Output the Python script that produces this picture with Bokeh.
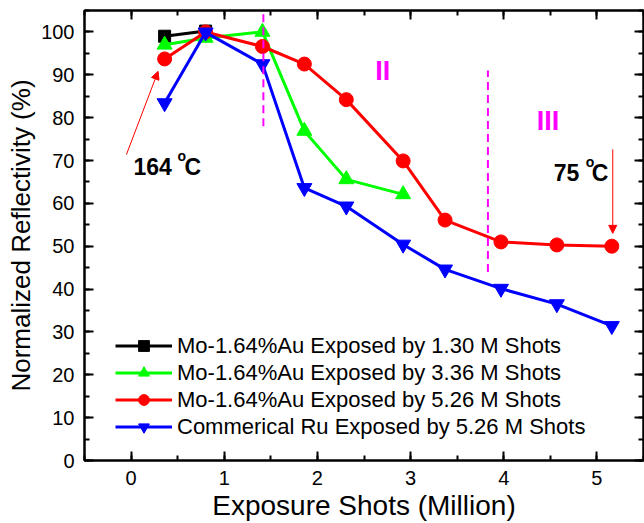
from bokeh.plotting import figure
from bokeh.models import (Range1d, LinearAxis, SingleIntervalTicker, Label, Arrow,
                          NormalHead, Legend, CustomLabelingPolicy)
from bokeh.embed import file_html
from bokeh.resources import INLINE

# ---------------- data ----------------
shots = [0.36, 0.80, 1.41, 1.86, 2.31, 2.92, 3.37, 3.97, 4.57, 5.16]
mo_130 = [99.0, 100.2]
mo_336 = [97.0, 98.6, 100.0, 76.9, 65.6, 62.1]
mo_526 = [93.7, 100.0, 96.6, 92.5, 84.2, 69.9, 56.1, 51.0, 50.3, 50.0]
ru_526 = [83.4, 99.9, 92.5, 63.6, 59.3, 50.4, 44.6, 40.1, 36.5, 31.4]

labels = ["Mo-1.64%Au Exposed by 1.30 M Shots",
          "Mo-1.64%Au Exposed by 3.36 M Shots",
          "Mo-1.64%Au Exposed by 5.26 M Shots",
          "Commerical Ru Exposed by 5.26 M Shots"]
colors = ["#000000", "#00FF00", "#FF0000", "#0000FF"]
markers = ["square", "triangle", "circle", "inverted_triangle"]
msizes = [12, 15, 14, 15]

# region boundaries and annotations (data coordinates)
boundary_1 = dict(x=1.42, y0=78.0, y1=108.0)
boundary_2 = dict(x=3.83, y0=44.0, y1=91.0)
region_labels = [("II", 2.70, 90.8), ("III", 4.475, 79.2)]
temp_labels = [("164", 0.025, 68.6, 44, 51), ("75", 4.537, 67.2, 32, 38)]
arrow_1 = dict(x0=-0.05, y0=71.4, x1=0.29, y1=90.8)
arrow_2 = dict(x0=5.17, y0=72.6, x1=5.17, y1=53.0)

FONT = "Liberation Sans"

p = figure(width=644, height=523, output_backend="svg", toolbar_location=None,
           x_range=Range1d(-0.5, 5.5), y_range=Range1d(0, 105),
           min_border_left=84, min_border_right=1, min_border_top=10,
           min_border_bottom=61)
p.xgrid.visible = False
p.ygrid.visible = False
p.outline_line_color = "black"
p.outline_line_width = 2
p.background_fill_color = "white"
p.border_fill_color = "white"

no_labels = CustomLabelingPolicy(code="""
    for (const i of indices) { indices.unset(i) }
    return indices
""")

def style_axis(ax, show_labels):
    ax.axis_line_width = 2
    ax.major_tick_line_width = 2
    ax.minor_tick_line_width = 2
    ax.major_tick_in = 9
    ax.major_tick_out = 0
    ax.minor_tick_in = 5
    ax.minor_tick_out = 0
    ax.major_label_text_font = FONT
    ax.major_label_text_color = "black"
    if show_labels:
        ax.major_label_text_font_size = "20px"
        ax.major_label_standoff = 10
    else:
        ax.major_label_text_font_size = "0px"
        ax.major_label_standoff = 0
        ax.major_label_policy = no_labels

xticker = SingleIntervalTicker(interval=1, num_minor_ticks=2)
yticker = SingleIntervalTicker(interval=10, num_minor_ticks=2)

p.xaxis.ticker = xticker
p.yaxis.ticker = yticker
style_axis(p.xaxis[0], True)
style_axis(p.yaxis[0], True)
p.xaxis.axis_label = "Exposure Shots (Million)"
p.yaxis.axis_label = "Normalized Reflectivity (%)"
for ax, fs in ((p.xaxis[0], "28px"), (p.yaxis[0], "26px")):
    ax.axis_label_text_font = FONT
    ax.axis_label_text_font_size = fs
    ax.axis_label_text_font_style = "normal"
    ax.axis_label_text_color = "black"
    ax.axis_label_standoff = 2

top = LinearAxis(ticker=SingleIntervalTicker(interval=1, num_minor_ticks=2))
style_axis(top, False)
p.add_layout(top, "above")
right = LinearAxis(ticker=SingleIntervalTicker(interval=10, num_minor_ticks=2))
style_axis(right, False)
p.add_layout(right, "right")

series = [mo_130, mo_336, mo_526, ru_526]
items = []
for ys, lab, col, mk, ms in zip(series, labels, colors, markers, msizes):
    xs = shots[:len(ys)]
    r1 = p.line(xs, ys, line_color=col, line_width=3)
    r2 = p.scatter(xs, ys, marker=mk, size=ms, fill_color=col, line_color=col)
    items.append((lab, [r1, r2]))

legend = Legend(items=items, location=(31, 20))
legend.label_text_font = FONT
legend.label_text_font_size = "22px"
legend.label_text_color = "black"
legend.glyph_width = 57
legend.glyph_height = 27
legend.label_height = 27
legend.label_standoff = 5
legend.spacing = 0
legend.padding = 0
legend.margin = 0
legend.border_line_color = None
legend.background_fill_alpha = 0
p.add_layout(legend)

# dashed region boundaries
for b in (boundary_1, boundary_2):
    p.add_layout(Arrow(end=None, x_start=b["x"], y_start=b["y0"], x_end=b["x"],
                       y_end=b["y1"], line_color="#FF00FF", line_width=2,
                       line_dash="8 5"))

for txt, x, y in region_labels:
    p.add_layout(Label(x=x, y=y, text=txt, text_font=FONT, text_font_size="27px",
                       text_font_style="bold", text_color="#FF00FF",
                       text_align="center", text_baseline="alphabetic"))

for num, x, y, off_o, off_c in temp_labels:
    p.add_layout(Label(x=x, y=y, text=num, text_font=FONT, text_font_size="23px",
                       text_font_style="bold", text_color="black",
                       text_baseline="alphabetic"))
    p.add_layout(Label(x=x, y=y, x_offset=off_o, y_offset=11, text="o",
                       text_font=FONT, text_font_size="14px",
                       text_font_style="bold", text_color="black",
                       text_baseline="alphabetic"))
    p.add_layout(Label(x=x, y=y, x_offset=off_c, text="C", text_font=FONT,
                       text_font_size="23px", text_font_style="bold",
                       text_color="black", text_baseline="alphabetic"))

for a in (arrow_1, arrow_2):
    p.add_layout(Arrow(end=NormalHead(size=8, fill_color="red", line_color="red"),
                       x_start=a["x0"], y_start=a["y0"], x_end=a["x1"], y_end=a["y1"],
                       line_color="red", line_width=1))

open("out.html", "w").write(file_html(p, INLINE))
